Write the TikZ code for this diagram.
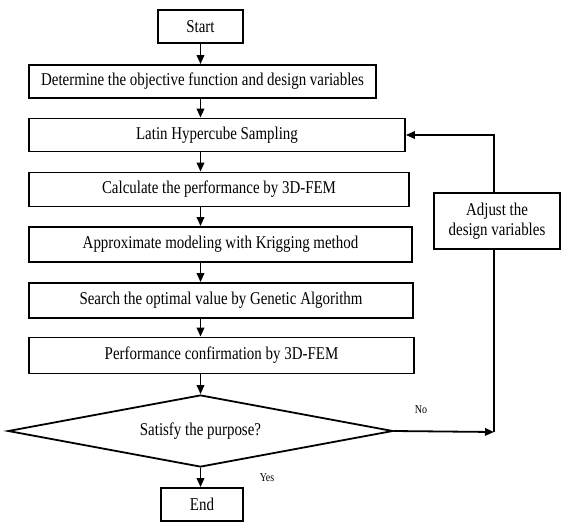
\documentclass[tikz,border=0pt]{standalone}
\usepackage{fontspec}
\setmainfont[FakeStretch=0.83]{Liberation Serif}
\usetikzlibrary{shapes.geometric,arrows.meta}
\begin{document}
\begin{tikzpicture}[x=1pt,y=-1pt,
  box/.style={draw,line width=1.8pt,rectangle,inner sep=0pt,font=\fontsize{18}{20}\selectfont,align=center},
  dec/.style={draw,line width=1.8pt,diamond,inner sep=0pt,aspect=5.3,font=\fontsize{18}{20}\selectfont},
  lab/.style={font=\fontsize{12}{14}\selectfont},
  arr/.style={line width=1.8pt,-{Triangle[length=9pt,width=7.5pt]}},
  ln/.style={line width=1.8pt}]
\useasboundingbox (0,0) rectangle (562,523);
\node[box,minimum width=85,minimum height=33] (start) at (200.5,26.5) {Start};
\node[box,minimum width=347,minimum height=33] (det) at (202.5,81.5) {Determine the objective function and design variables};
\node[box,minimum width=376,minimum height=33] (lhs) at (217,135) {Latin Hypercube Sampling};
\node[box,minimum width=380,minimum height=34] (fem) at (219,189.5) {Calculate the performance by 3D-FEM};
\node[box,minimum width=383,minimum height=35] (krig) at (220.5,244.5) {Approximate modeling with Krigging method};
\node[box,minimum width=384,minimum height=35] (ga) at (221,300.5) {Search the optimal value by Genetic Algorithm};
\node[box,minimum width=385,minimum height=36] (conf) at (221.5,355.5) {Performance confirmation by 3D-FEM};
\node[dec,minimum width=385,minimum height=72] (sat) at (200.5,431) {Satisfy the purpose?};
\node[box,minimum width=126,minimum height=56] (adj) at (497,221) {Adjust the\\design variables};
\node[box,minimum width=82,minimum height=33] (end) at (202,504.5) {End};
\node[lab] (no) at (421,410) {No};
\node[lab] (yes) at (267,478) {Yes};
\coordinate (c1) at (494,432);
\coordinate (c2) at (494,135);
\draw[arr] (start.south) -- (det.north -| start.south);
\draw[arr] (det.south -| start.south) -- (lhs.north -| start.south);
\draw[arr] (lhs.south -| start.south) -- (fem.north -| start.south);
\draw[arr] (fem.south -| start.south) -- (krig.north -| start.south);
\draw[arr] (krig.south -| start.south) -- (ga.north -| start.south);
\draw[arr] (ga.south -| start.south) -- (conf.north -| start.south);
\draw[arr] (conf.south -| start.south) -- (sat.north -| start.south);
\draw[arr] (sat.south -| start.south) -- (end.north -| start.south);
\draw[arr] (sat.east) -- (c1);
\draw[ln] (c1) -- (c1 |- adj.south);
\draw[arr] (c2 |- adj.north) -- (c2) -- (lhs.east);
\end{tikzpicture}
\end{document}
